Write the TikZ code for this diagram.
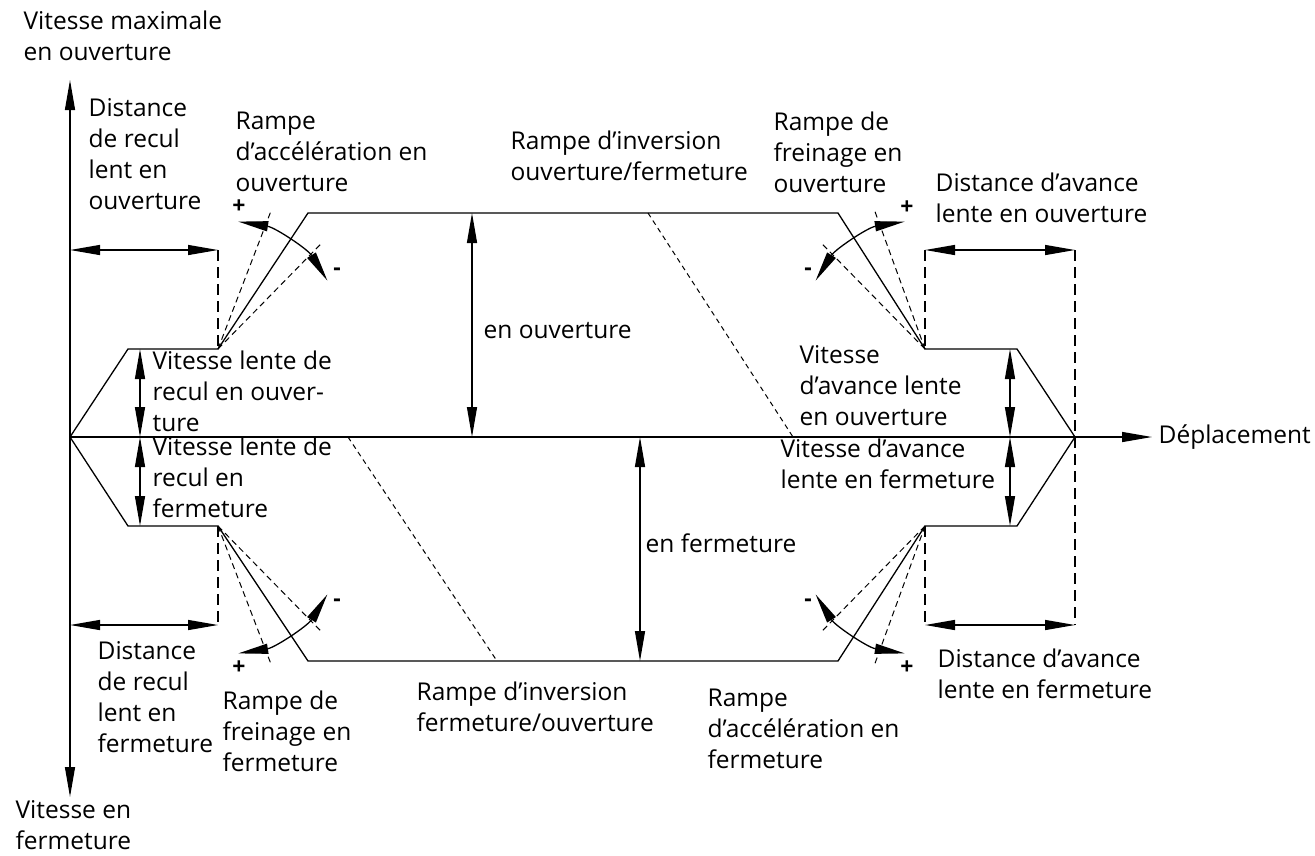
\documentclass[tikz,border=0pt]{standalone}
\usepackage{fontspec}
\setmainfont{Open Sans}
\usetikzlibrary{arrows.meta,calc}
\begin{document}
\begin{tikzpicture}[x=1pt,y=-1pt,
  line width=1.3pt,
  >={Triangle[length=30pt,width=10pt]},
  lbl/.style={anchor=north west,inner sep=0pt,align=left,yshift=21.7pt,
     font=\fontsize{24.5}{31}\selectfont, execute at begin node=\strut},
  sgn/.style={inner sep=0pt,font=\fontsize{23}{26}\selectfont\bfseries},
  vdash/.style={line width=1.1pt,dash pattern=on 11pt off 6pt},
  rdash/.style={line width=1pt,dash pattern=on 6pt off 4pt},
  idash/.style={line width=1pt,dash pattern=on 5pt off 4pt}]
\useasboundingbox (0,0) rectangle (1315,855);
% axes
\coordinate (O) at (70,437);
\coordinate (Atop) at (70,80);
\coordinate (Abot) at (70,797);
\coordinate (Aright) at (1152,437);
\draw[<->] (Atop) -- (Abot);
\draw[->] (O) -- (Aright);
% profile points
\coordinate (U1) at (128,349); \coordinate (J1) at (218,349);
\coordinate (U2) at (308,213); \coordinate (U3) at (838,213);
\coordinate (J2) at (925,349); \coordinate (U4) at (1017,349);
\coordinate (E) at (1075,437);
\coordinate (L1) at (128,526); \coordinate (J3) at (218,526);
\coordinate (L2) at (308,661); \coordinate (L3) at (838,661);
\coordinate (J4) at (925,526); \coordinate (L4) at (1017,526);
\draw (O) -- (U1) -- (J1) -- (U2) -- (U3) -- (J2) -- (U4) -- (E);
\draw (O) -- (L1) -- (J3) -- (L2) -- (L3) -- (J4) -- (L4) -- (E);
% distance dimension lines
\coordinate (DA) at (70,250);  \coordinate (DB) at (218,250);
\coordinate (DC) at (925,250); \coordinate (DD) at (1075,250);
\coordinate (DE) at (70,625);  \coordinate (DF) at (218,625);
\coordinate (DG) at (925,625); \coordinate (DH) at (1075,625);
\draw[<->] (DA) -- (DB);
\draw[<->] (DC) -- (DD);
\draw[<->] (DE) -- (DF);
\draw[<->] (DG) -- (DH);
\draw[vdash] (DB) -- (J1);
\draw[vdash] (J3) -- (DF);
\draw[vdash] (DC) -- (J2);
\draw[vdash] (J4) -- (DG);
\draw[vdash] (DD) -- (DH);
% speed arrows
\coordinate (S1) at (140,349); \coordinate (S0) at (140,437); \coordinate (S2) at (140,526);
\coordinate (T1) at (1010,349); \coordinate (T0) at (1010,437); \coordinate (T2) at (1010,526);
\draw[<->] (S1) -- (S0);
\draw[<->] (S0) -- (S2);
\draw[<->] (T1) -- (T0);
\draw[<->] (T0) -- (T2);
\coordinate (M1) at (472,213); \coordinate (M0) at (472,437);
\coordinate (N0) at (640,437); \coordinate (N1) at (640,661);
\draw[<->] (M1) -- (M0);
\draw[<->] (N0) -- (N1);
% inversion ramps
\coordinate (I1) at (648,213); \coordinate (I2) at (793,437);
\coordinate (I3) at (348,437); \coordinate (I4) at (497,661);
\draw[idash] (I1) -- (I2);
\draw[idash] (I3) -- (I4);
% ramp variation
\draw[rdash] (J1) -- ++(-69:146);
\draw[rdash] (J1) -- ++(-45.6:146);
\draw[<->] ($(J1)+(-81:129)$) arc[start angle=-81,end angle=-32,radius=129];
\draw[rdash] (J2) -- ++(-110:146);
\draw[rdash] (J2) -- ++(-134.4:146);
\draw[<->] ($(J2)+(-148:129)$) arc[start angle=-148,end angle=-99,radius=129];
\draw[rdash] (J3) -- ++(69:146);
\draw[rdash] (J3) -- ++(45.6:146);
\draw[<->] ($(J3)+(81:129)$) arc[start angle=81,end angle=32,radius=129];
\draw[rdash] (J4) -- ++(110:146);
\draw[rdash] (J4) -- ++(134.4:146);
\draw[<->] ($(J4)+(148:129)$) arc[start angle=148,end angle=99,radius=129];
% signs
\node[sgn] (p1) at (239,207) {+};
\node[sgn] (m1) at (337,272) {-};
\node[sgn] (p2) at (907,208) {+};
\node[sgn] (m2) at (808,272) {-};
\node[sgn] (p3) at (239,668) {+};
\node[sgn] (m3) at (337,603) {-};
\node[sgn] (p4) at (907,668) {+};
\node[sgn] (m4) at (808,603) {-};
% labels
\node[lbl] (t1) at (23,32) {Vitesse maximale\\en ouverture};
\node[lbl] (t2) at (88,120) {Distance\\de recul\\lent en\\ouverture};
\node[lbl] (t3) at (235,133) {Rampe\\d’accélération en\\ouverture};
\node[lbl] (t4) at (510,152) {Rampe d’inversion\\ouverture/fermeture};
\node[lbl] (t5) at (773,133) {Rampe de\\freinage en\\ouverture};
\node[lbl] (t6) at (935,194) {Distance d’avance\\lente en ouverture};
\node[lbl] (t7) at (152,372) {Vitesse lente de\\recul en ouver-\\ture};
\node[lbl] (t8) at (483,338) {en ouverture};
\node[lbl] (t9) at (799,367) {Vitesse\\d’avance lente\\en ouverture};
\node[lbl] (t10) at (1158,443) {Déplacement};
\node[lbl] (t11) at (152,458) {Vitesse lente de\\recul en\\fermeture};
\node[lbl] (t12) at (780,460) {Vitesse d’avance\\lente en fermeture};
\node[lbl] (t13) at (645,552) {en fermeture};
\node[lbl] (t14) at (97,663) {Distance\\de recul\\lent en\\fermeture};
\node[lbl] (t15) at (222,712) {Rampe de\\freinage en\\fermeture};
\node[lbl] (t16) at (416,703) {Rampe d’inversion\\fermeture/ouverture};
\node[lbl] (t17) at (707,710) {Rampe\\d’accélération en\\fermeture};
\node[lbl] (t18) at (937,670) {Distance d’avance\\lente en fermeture};
\node[lbl] (t19) at (15,822) {Vitesse en\\fermeture};
\end{tikzpicture}
\end{document}
